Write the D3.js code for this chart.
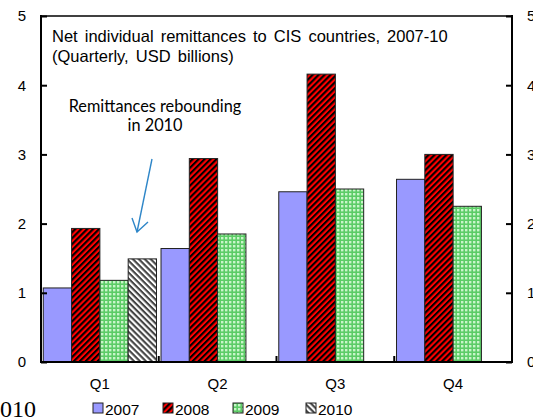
<!DOCTYPE html>
<html>
<head>
<meta charset="utf-8">
<script src="https://cdn.jsdelivr.net/npm/d3@7"></script>
<style>
  html, body { margin: 0; padding: 0; background: #fff; overflow: hidden; }
  svg { display: block; }
  text { font-family: "Liberation Sans", Arial, sans-serif; fill: #000; }
</style>
</head>
<body>
<svg id="chart" width="533" height="418"></svg>
<script>
// Quarterly net individual remittances to CIS countries (USD billions)
const quarters = ["Q1", "Q2", "Q3", "Q4"];
const years = ["2007", "2008", "2009", "2010"];
const values2007 = [1.07, 1.64, 2.46, 2.64];
const values2008 = [1.93, 2.94, 4.16, 3.00];
const values2009 = [1.18, 1.85, 2.50, 2.25];
const values2010 = [1.49, null, null, null];
const yTicks = [0, 1, 2, 3, 4, 5];

const seriesByYear = {
  "2007": values2007, "2008": values2008,
  "2009": values2009, "2010": values2010
};

const svg = d3.select("#chart");
const margin = { left: 41, right: 512, top: 16, bottom: 362 };

// Fill patterns for each year
const defs = svg.append("defs");

const p08 = defs.append("pattern").attr("id", "pat2008")
  .attr("patternUnits", "userSpaceOnUse").attr("width", 4.2).attr("height", 4.2)
  .attr("patternTransform", "rotate(-45)");
p08.append("rect").attr("width", 4.2).attr("height", 4.2).attr("fill", "#ff0000");
p08.append("rect").attr("width", 4.2).attr("height", 2.1).attr("fill", "#000");

const p09 = defs.append("pattern").attr("id", "pat2009")
  .attr("patternUnits", "userSpaceOnUse").attr("width", 4).attr("height", 4);
p09.append("rect").attr("width", 4).attr("height", 4).attr("fill", "#5ccc66");
p09.append("rect").attr("x", 1).attr("y", 1).attr("width", 2.4).attr("height", 2.4).attr("fill", "#c9f5c9");

const p10 = defs.append("pattern").attr("id", "pat2010")
  .attr("patternUnits", "userSpaceOnUse").attr("width", 4.2).attr("height", 4.2)
  .attr("patternTransform", "rotate(45)");
p10.append("rect").attr("width", 4.2).attr("height", 4.2).attr("fill", "#ffffff");
p10.append("rect").attr("width", 4.2).attr("height", 2.1).attr("fill", "#444");

const fills = {
  "2007": "#9999ff",
  "2008": "url(#pat2008)",
  "2009": "url(#pat2009)",
  "2010": "url(#pat2010)"
};

// Scales
const x0 = d3.scaleBand().domain(quarters).range([margin.left, margin.right]).padding(0);
const x1 = d3.scaleBand().domain(years).range([0, x0.bandwidth()]).paddingInner(0).paddingOuter(0.08);
const y = d3.scaleLinear().domain([0, 5]).range([margin.bottom, margin.top]);

// Bars
const barData = [];
quarters.forEach((q, i) => {
  years.forEach(yr => {
    const v = seriesByYear[yr][i];
    if (v != null) barData.push({ q, yr, v });
  });
});

svg.append("g").selectAll("rect").data(barData).join("rect")
  .attr("x", d => x0(d.q) + x1(d.yr))
  .attr("y", d => y(d.v))
  .attr("width", x1.bandwidth())
  .attr("height", d => y(0) - y(d.v))
  .attr("fill", d => fills[d.yr])
  .attr("stroke", "#222")
  .attr("stroke-width", 1);

// Axes
const axisStyle = g => {
  g.select(".domain").remove();
  g.selectAll(".tick line").attr("stroke", "#000").attr("stroke-width", 2);
  g.selectAll(".tick text").attr("font-size", 15).attr("font-family", "Liberation Sans, Arial, sans-serif");
};

svg.append("g").attr("transform", `translate(${margin.left},0)`)
  .call(d3.axisRight(y).tickValues(yTicks).tickSize(6).tickFormat(d3.format("d")))
  .call(axisStyle)
  .call(g => g.selectAll(".tick text").attr("x", -15).attr("text-anchor", "end"));

svg.append("g").attr("transform", `translate(${margin.right},0)`)
  .call(d3.axisLeft(y).tickValues(yTicks).tickSize(6).tickFormat(d3.format("d")))
  .call(axisStyle)
  .call(g => g.selectAll(".tick text").attr("x", 15).attr("text-anchor", "start"));

// Category ticks on the zero line at quarter boundaries
svg.append("g").selectAll("line").data(quarters.slice(1)).join("line")
  .attr("x1", d => x0(d)).attr("x2", d => x0(d))
  .attr("y1", y(0)).attr("y2", y(0) - 6)
  .attr("stroke", "#000").attr("stroke-width", 2);

// Frame lines
const frame = svg.append("g").attr("stroke", "#000").attr("stroke-width", 2).attr("fill", "none");
frame.append("line").attr("x1", margin.left).attr("x2", margin.left).attr("y1", y(5) - 1).attr("y2", y(0) + 1);
frame.append("line").attr("x1", margin.right).attr("x2", margin.right).attr("y1", y(5) - 1).attr("y2", y(0) + 1);
frame.append("line").attr("x1", margin.left).attr("x2", margin.right).attr("y1", y(5)).attr("y2", y(5)).attr("stroke-width", 1.5);
frame.append("line").attr("x1", margin.left - 1).attr("x2", margin.right + 1).attr("y1", y(0)).attr("y2", y(0));

// Quarter labels
svg.append("g").selectAll("text").data(quarters).join("text")
  .attr("x", d => x0(d) + x0.bandwidth() / 2)
  .attr("y", 389)
  .attr("text-anchor", "middle")
  .attr("font-size", 15)
  .text(d => d);

// Title
svg.append("text").attr("x", 52).attr("y", 42).attr("font-size", 16.5)
  .attr("word-spacing", 2.5)
  .text("Net individual remittances to CIS countries, 2007-10");
svg.append("text").attr("x", 52).attr("y", 62).attr("font-size", 16.5)
  .attr("word-spacing", 2.5)
  .text("(Quarterly, USD billions)");

// Annotation
const note = svg.append("g");
note.append("text").attr("x", 155).attr("y", 112).attr("text-anchor", "middle")
  .attr("font-size", 16.3).style("font-family", "Lato, sans-serif")
  .text("Remittances rebounding");
note.append("text").attr("x", 155).attr("y", 131).attr("text-anchor", "middle")
  .attr("font-size", 16.3).style("font-family", "Lato, sans-serif")
  .text("in 2010");

const arrow = svg.append("g").attr("stroke", "#2e86c8").attr("stroke-width", 1.4).attr("fill", "none");
arrow.append("line").attr("x1", 152).attr("y1", 159).attr("x2", 137).attr("y2", 232);
arrow.append("path").attr("d", "M132,218 L137,232 L148,222");

// Legend
const legendX = [93, 163, 233, 306];
const legend = svg.append("g").selectAll("g").data(years).join("g")
  .attr("transform", (d, i) => `translate(${legendX[i]},403)`);
legend.append("rect").attr("width", 10).attr("height", 10)
  .attr("fill", d => fills[d]).attr("stroke", "#222").attr("stroke-width", 1);
legend.append("text").attr("x", 12).attr("y", 11.5).attr("font-size", 15.5).text(d => d);

// Stray year label at the lower-left edge
svg.append("text").attr("x", -12).attr("y", 417)
  .attr("font-size", 24).style("font-family", "'Liberation Serif', 'Times New Roman', serif")
  .text("2010");
</script>
</body>
</html>
